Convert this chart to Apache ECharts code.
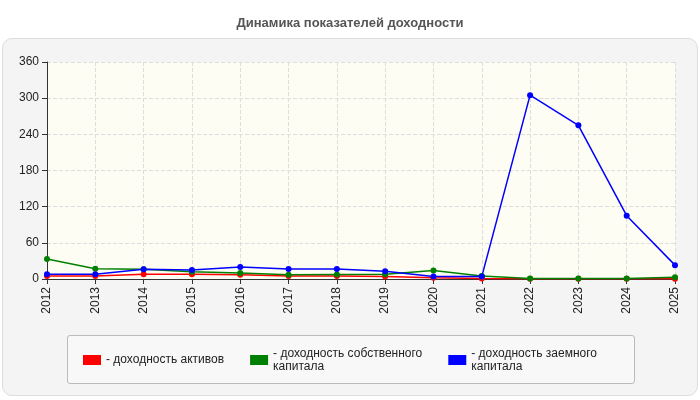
<!DOCTYPE html>
<html><head><meta charset="utf-8">
<script src="https://cdn.jsdelivr.net/npm/echarts@6/dist/echarts.min.js"></script>
<style>body{margin:0;background:#fff}#c{width:700px;height:400px}
#box{position:absolute;left:2px;top:38px;width:694px;height:356px;border:1px solid #ddd;border-radius:10px;background:#f4f4f4}
#lg{position:absolute;left:67px;top:335px;width:566px;height:47px;border:1px solid #bbb;border-radius:3px;background:#f8f8f8}
#c{position:absolute;left:0;top:0}</style></head>
<body><div id="box"></div><div id="lg"></div><div id="c"></div>
<script>
const years=['2012','2013','2014','2015','2016','2017','2018','2019','2020','2021','2022','2023','2024','2025'];
const assets=[5,5,8,8,7,5,5,4,2,1,0.5,0.5,0.5,0.5];
const equity=[33,17,16,12,10,7,7.5,8,14,5,1,1,1,3];
const borrowed=[8,8,16,15,20,16.5,16.5,13,4,4,305,255,105,23];
const names=['- доходность активов','- доходность собственного\nкапитала','- доходность заемного\nкапитала'];
const colors=['#ff0000','#008000','#0000ff'];
const ch=echarts.init(document.getElementById('c'));
const mk=(n,d,c)=>({name:n,type:'line',data:d,symbol:'circle',symbolSize:6,itemStyle:{color:c},lineStyle:{color:c,width:1.5}});
ch.setOption({
 animation:false,
 title:{text:'Динамика показателей доходности',left:'center',top:12,textStyle:{fontSize:13,fontWeight:'bold',color:'#555',fontFamily:'Arial'}},
 grid:{left:47,right:25,top:62,bottom:121,show:true,backgroundColor:'#fdfdf3',borderWidth:0},
 legend:{data:names,left:78,top:342,itemWidth:18,itemHeight:10,itemGap:26,icon:'rect',align:'left',textStyle:{fontSize:12,color:'#222',fontFamily:'Arial',lineHeight:13,verticalAlign:'top'}},
 xAxis:{type:'category',data:years,boundaryGap:false,axisLabel:{rotate:90,fontSize:12,color:'#222',fontFamily:'Arial'},
  axisLine:{lineStyle:{color:'#333'}},axisTick:{lineStyle:{color:'#333'}},splitLine:{show:true,lineStyle:{type:'dashed',color:'#ddd'}}},
 yAxis:{type:'value',min:0,max:360,interval:60,axisLabel:{fontSize:12,color:'#222',fontFamily:'Arial'},
  axisLine:{show:true,lineStyle:{color:'#333'}},axisTick:{show:true},splitLine:{lineStyle:{type:'dashed',color:'#ddd'}}},
 series:[mk(names[0],assets,colors[0]),mk(names[1],equity,colors[1]),mk(names[2],borrowed,colors[2])]
});
</script></body></html>
